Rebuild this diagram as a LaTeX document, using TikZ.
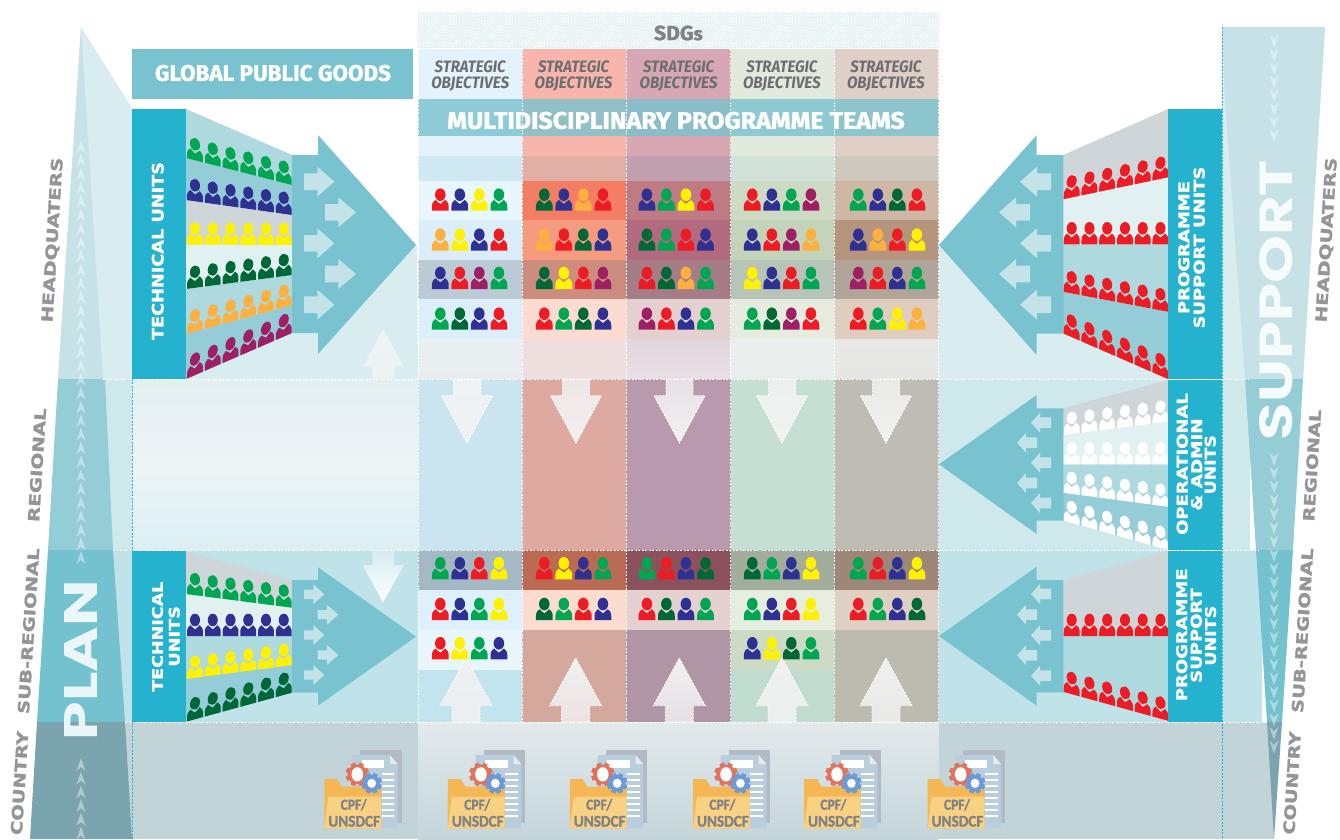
\documentclass[tikz,border=0pt]{standalone}
\usepackage{fontspec}
\usepackage{graphicx}
\usetikzlibrary{patterns.meta}
\newfontfamily\heavyfont{DejaVu Sans}[BoldFeatures={FakeBold=1.2}]
\newfontfamily\titlefont{Fira Sans}[BoldFeatures={FakeBold=1.5}]
\newfontfamily\bigfont{Poppins}
\newfontfamily\smallfont{Carlito}[BoldFeatures={FakeBold=1.5}]
\definecolor{cR}{HTML}{ED1C24}
\definecolor{cB}{HTML}{2E3192}
\definecolor{cY}{HTML}{FFF200}
\definecolor{cG}{HTML}{00A651}
\definecolor{cD}{HTML}{006837}
\definecolor{cO}{HTML}{FBB040}
\definecolor{cP}{HTML}{9E1F63}
\definecolor{cW}{HTML}{FFFFFF}
\definecolor{arrowteal}{HTML}{78C3CF}
\definecolor{unitblue}{HTML}{25B2CF}
\definecolor{smallarrow}{HTML}{C3E3E9}
\definecolor{band1}{HTML}{ADD9DF}
\definecolor{band2}{HTML}{94CDD7}
\definecolor{band3}{HTML}{CFD6DA}
\definecolor{band4}{HTML}{E1F1F2}
\definecolor{sidegray}{HTML}{939598}
\definecolor{objgray}{HTML}{6D6E71}
\definecolor{cpfgray}{HTML}{808285}
\definecolor{bgHQ}{HTML}{D9ECF0}
\definecolor{bgRE}{HTML}{CFE8EC}
\definecolor{bgSU}{HTML}{C0E3E9}
\definecolor{bgCO}{HTML}{C3D4D8}
\definecolor{triHQ}{HTML}{C6E2E7}
\definecolor{triRE}{HTML}{95CDD7}
\definecolor{triSU}{HTML}{74C2CF}
\definecolor{triCO}{HTML}{7BA5AE}
\definecolor{regtop}{HTML}{E3EFF1}
\definecolor{regmid}{HTML}{ECF4F6}
\definecolor{regbot}{HTML}{DDEFF2}
\definecolor{sdgline}{HTML}{A9D8E0}
\definecolor{upfill}{HTML}{EEF3F5}
\definecolor{upfillb}{HTML}{EDF2F4}
\definecolor{dnfill}{HTML}{D5ECEF}
\tikzset{
  whitedash/.style={draw=white,line width=0.8pt,dash pattern=on 2pt off 1.5pt},
  cyandash/.style={draw=unitblue,line width=0.8pt,dash pattern=on 2pt off 1.5pt},
  chevron/.style={fill=white,fill opacity=0.42},
}
\newcommand{\fitlabel}[9]{\node[inner sep=0pt,rotate=#4,text=#7] (#1) at (#2,#3) {\resizebox{#5pt}{#6pt}{#8#9}};}
\newcommand{\personw}{1}
\newcommand{\person}[4]{\begin{scope}[shift={(#1,#2)},yslant=#3,xscale=\personw]
  \fill[#4] (-8.4,0) -- (-8.4,-3.5) .. controls (-8.4,-7.2) and (-7.2,-9.6) .. (-5,-10.8) -- (0,-6.6) -- (5,-10.8) .. controls (7.2,-9.6) and (8.4,-7.2) .. (8.4,-3.5) -- (8.4,0) -- cycle;
  \fill[#4] (0,-16) ellipse [x radius=5.3,y radius=6.3];
\end{scope}}
\newcommand{\teamrow}[6]{\person{#1}{#2}{0}{#3}\person{#1+19.5}{#2}{0}{#4}\person{#1+39}{#2}{0}{#5}\person{#1+58.6}{#2}{0}{#6}}
\newcommand{\funnelrow}[6]{\foreach \i in {0,...,5}{\def\personw{.95}\pgfmathsetmacro\cx{#5+17.75*\i}\pgfmathsetmacro\by{#2+(\cx-#1)*(#4-#2)/(#3-#1)}\pgfmathsetmacro\sl{-(#4-#2)/(#3-#1)}\person{\cx}{\by}{\sl}{#6}}}
\newcommand{\cellrow}[7]{%
  \definecolor{tmpc}{HTML}{#3}\fill[tmpc] (418,#1) rectangle (522.3,#2);
  \definecolor{tmpc}{HTML}{#4}\fill[tmpc] (522.3,#1) rectangle (626.3,#2);
  \definecolor{tmpc}{HTML}{#5}\fill[tmpc] (626.3,#1) rectangle (730.6,#2);
  \definecolor{tmpc}{HTML}{#6}\fill[tmpc] (730.6,#1) rectangle (834.2,#2);
  \definecolor{tmpc}{HTML}{#7}\fill[tmpc] (834.2,#1) rectangle (938.6,#2);}
\newcommand{\gradcell}[6]{\definecolor{tmpa}{HTML}{#5}\definecolor{tmpb}{HTML}{#6}\shade[top color=tmpa,bottom color=tmpb] (#1,#3) rectangle (#2,#4);}
\newcommand{\bigdown}[3]{\definecolor{tmpa}{HTML}{#2}\definecolor{tmpb}{HTML}{#3}%
  \path[top color=tmpa,bottom color=tmpb,whitedash] (#1-13.5,379) -- (#1+13.5,379) -- (#1+13.5,395.7) -- (#1+25.5,395.7) -- (#1,443) -- (#1-25.5,395.7) -- (#1-13.5,395.7) -- cycle;}
\newcommand{\bigup}[3]{\definecolor{tmpa}{HTML}{#2}\definecolor{tmpb}{HTML}{#3}%
  \path[top color=tmpa,bottom color=tmpb,whitedash] (#1-14,722) -- (#1+14,722) -- (#1+14,705.7) -- (#1+26,705.7) -- (#1,658) -- (#1-26,705.7) -- (#1-14,705.7) -- cycle;}
\newcommand{\sarrow}[6]{\fill[smallarrow] (#1,#4-#5) -- (#3,#4-#5) -- (#3,#4-#6) -- (#2,#4) -- (#3,#4+#6) -- (#3,#4+#5) -- (#1,#4+#5) -- cycle;}
\newcommand{\gearicon}[6]{\definecolor{tmpg}{HTML}{#4}%
  \foreach \a in {0,45,...,315}{\fill[tmpg,rotate around={\a+22:(#1,#2)}] (#1-2.2,#2-#3-1.8) rectangle (#1+2.2,#2+#3+1.8);}
  \fill[tmpg] (#1,#2) circle [radius=#3];
  \fill[white] (#1,#2) ellipse [x radius=#5,y radius=#6];}
\newcommand{\cpficon}[2]{\begin{scope}[shift={(#2-324.3,0)}]
  \fill[docback] (360,750) rectangle (401.7,823.3);
  \fill[docfront] (352,755) -- (390,755) -- (397.7,764) -- (397.7,828.3) -- (352,828.3) -- cycle;
  \fill[docfold] (390,755) -- (397.7,764) -- (390,764) -- cycle;
  \fill[white] (361.7,760) rectangle (384,767.7);
  \foreach \ly in {773,779,785,791,797,803,809,815}{\fill[white] (381.7,\ly) rectangle (394.3,\ly+2);}
  \fill[folderback] (324.3,779) -- (337.3,779) -- (341.7,786.7) -- (381,786.7) -- (381,828.3) -- (324.3,828.3) -- cycle;
  \gearicon{357.3}{774.3}{9.8}{E2725B}{5.8}{7.2}
  \gearicon{371.7}{783.3}{8.3}{6C9AD6}{4.4}{4.6}
  \fill[folderfront] (328.3,796.7) -- (381,796.7) -- (381,828.3) -- (324.3,828.3) -- cycle;
  \fitlabel{cpfa#1}{353.7}{804.7}{0}{26}{10.7}{cpfgray}{\smallfont\bfseries}{CPF/}
  \fitlabel{cpfb#1}{354.2}{821.3}{0}{51.7}{10.7}{cpfgray}{\smallfont\bfseries}{UNSDCF}
\end{scope}}
\definecolor{docback}{HTML}{B3BAC5}
\definecolor{docfront}{HTML}{B9CEDD}
\definecolor{docfold}{HTML}{E3EBF0}
\definecolor{folderback}{HTML}{F4B754}
\definecolor{folderfront}{HTML}{F9D183}
\begin{document}
\begin{tikzpicture}[x=1pt,y=-1pt]
\useasboundingbox (0,0) rectangle (1340,839);
\fill[white] (0,0) rectangle (1340,839);

% ---- level backgrounds, left
\fill[bgHQ] (81,27) -- (132,108) -- (132,379) -- (58,379) -- cycle;
\fill[triHQ] (81,27) -- (103,379) -- (58,379) -- cycle;
\fill[bgHQ] (186,379) -- (292,333) -- (417,245) -- (418,379) -- cycle;
\shade[top color=regtop,bottom color=regbot,middle color=regmid] (132,379) rectangle (418,550);
\fill[bgRE] (105,379) rectangle (132,550);
\fill[bgSU] (113,550) rectangle (418,722);
\fill[bgCO] (125,722) rectangle (418,839);
% ---- level backgrounds, right
\fill[bgHQ] (938,245) -- (1063,333) -- (1168,379) -- (938,379) -- cycle;
\fill[bgRE] (938,379) rectangle (1250,550);
\fill[bgSU] (938,550) rectangle (1262,722);
\fill[bgCO] (938,722) rectangle (1274,839);

% ---- PLAN tapering shape
\fill[triRE] (58,379) -- (105,379) -- (113,550) -- (48,550) -- cycle;
\fill[triSU] (48,550) -- (113,550) -- (125,722) -- (37,722) -- cycle;
\fill[triCO] (37,722) -- (125,722) -- (132,839) -- (30,839) -- cycle;
\foreach \y in {140,153.7,...,560}{\fill[chevron] (81,\y) -- (85.5,\y+13) -- (81,\y+9) -- (76.5,\y+13) -- cycle;}
\foreach \y in {758,771.7,...,830}{\fill[chevron] (81,\y) -- (85.5,\y+13) -- (81,\y+9) -- (76.5,\y+13) -- cycle;}

% ---- SUPPORT tapering shape
\fill[bgHQ] (1222,27) -- (1325,27) -- (1303,379) -- (1222,379) -- cycle;
\fill[triHQ] (1222,27) -- (1325,27) -- (1303,379) -- (1245,379) -- (1225,100) -- cycle;
\fill[triRE] (1245,379) -- (1303,379) -- (1293,550) -- (1256,550) -- cycle;
\fill[triSU] (1256,550) -- (1293,550) -- (1282,722) -- (1267,722) -- cycle;
\fill[triCO] (1267,722) -- (1282,722) -- (1274,839) -- cycle;
\foreach \y in {35,48.5,...,130}{\fill[chevron] (1274,\y+13) -- (1278.5,\y) -- (1274,\y+4) -- (1269.5,\y) -- cycle;}
\foreach \y in {453,466.7,...,745}{\fill[chevron] (1274,\y+13) -- (1278.5,\y) -- (1274,\y+4) -- (1269.5,\y) -- cycle;}

% ---- SDGs band
\fill[pattern={Lines[angle=45,distance=2.2pt,line width=.5pt]},pattern color=sdgline] (418,12) rectangle (939,47);
\fill[white,opacity=.35] (418,12) rectangle (939,47);
\fitlabel{sdgs}{678.4}{33}{0}{48.7}{14.5}{cpfgray}{\titlefont\bfseries}{SDG{\small s}}

% ---- objective columns
\cellrow{49}{156}{E3F2FB}{F7B5AB}{D7A7B4}{E2E9DD}{DFCFC6}
\cellrow{156}{181}{D0E8F1}{E2AFA7}{C0A0AF}{D3E2D9}{CEC9BF}
\cellrow{181}{220}{E8F6FD}{F37E63}{BF7B83}{CEDBC4}{CFB7A5}
\cellrow{220}{260}{DAEDF9}{F49B80}{B26A7E}{C3D4BA}{B5957D}
\cellrow{260}{299}{BACBD5}{CC8D7E}{A67D86}{B9C4B8}{B1A498}
\cellrow{299}{339}{DDEEFA}{FDDBD0}{E5D0D0}{E6EDE0}{DFCDBF}
\gradcell{418}{522.3}{339}{379}{E9EFF2}{E8ECEE}
\gradcell{522.3}{626.3}{339}{379}{F0DFDD}{EEE0E0}
\gradcell{626.3}{730.6}{339}{379}{E2D6DE}{E8E0E4}
\gradcell{730.6}{834.2}{339}{379}{EAEFEE}{E9EDEC}
\gradcell{834.2}{938.6}{339}{379}{E8E8E6}{E6E6E4}
\cellrow{379}{550}{CBE5F0}{DDA9A1}{B89AAC}{C6DFD3}{BEBCB3}
\cellrow{550}{590}{A5B9C4}{BB6A53}{8B515D}{A2AD9D}{9D8778}
\cellrow{590}{630}{DEF0FC}{FDDCD0}{E5D1D0}{E6EEE0}{E0D0C4}
\cellrow{630}{670}{E8F6FC}{D4A89C}{B096A5}{CEDBC4}{BBBBB0}
\cellrow{670}{722}{C2E4EE}{D4A89C}{B096A5}{C0DBD0}{BBBBB0}
\gradcell{418}{938.6}{722}{839}{E3EAEC}{C4D5DA}

% ---- global public goods, programme teams band
\fill[arrowteal] (132,49) rectangle (413,99);
\fitlabel{gpg}{273}{73}{0}{236}{16}{white}{\titlefont\bfseries}{GLOBAL PUBLIC GOODS}
\foreach \cc in {470.2,573.6,678.6,781.9,885.9}{
  \node[inner sep=0pt,text=objgray] at (\cc,67) {\resizebox{71pt}{11.7pt}{\titlefont\bfseries\itshape STRATEGIC}};
  \node[inner sep=0pt,text=objgray] at (\cc,84) {\resizebox{77.8pt}{11.7pt}{\titlefont\bfseries\itshape OBJECTIVES}};
}
\fill[arrowteal,opacity=.8] (418,99) rectangle (938.6,136);
\fitlabel{mpt}{676}{120.5}{0}{457.6}{17}{white}{\titlefont\bfseries}{MULTIDISCIPLINARY PROGRAMME TEAMS}

% ---- white arrows between levels
\path[top color=upfill,bottom color=upfillb] (372.3,379) -- (394.3,379) -- (394.3,366.7) -- (404,366.7) -- (383,329.3) -- (362.7,366.7) -- (372.3,366.7) -- cycle;
\path[top color=dnfill,bottom color=white] (372.3,550) -- (394.3,550) -- (394.3,565) -- (404,565) -- (383,602.3) -- (362.7,565) -- (372.3,565) -- cycle;
\bigdown{467}{EEF3F5}{F0F1F1}
\bigdown{576}{EFE6E5}{F1F0F0}
\bigdown{679.5}{E8E1E6}{F1F0F0}
\bigdown{782}{EBF0EE}{F1F2F1}
\bigdown{886}{E9E9E7}{F1F1F0}
\bigup{466}{F0F0F0}{E9EFF1}
\bigup{575.6}{F0F0F0}{EDE2E1}
\bigup{679.3}{F0F0F0}{E6E0E5}
\bigup{782}{F0F0F0}{EAF0ED}
\bigup{886}{F0F0F0}{E8E8E5}

% ---- team members, upper block
\teamrow{440.3}{210.7}{cR}{cB}{cY}{cG}
\teamrow{544.3}{210.7}{cD}{cB}{cO}{cR}
\teamrow{646.9}{210.7}{cB}{cG}{cY}{cR}
\teamrow{752.3}{210.7}{cR}{cB}{cG}{cP}
\teamrow{858.3}{210.7}{cG}{cB}{cD}{cR}
\teamrow{440.3}{250.7}{cO}{cY}{cB}{cR}
\teamrow{544.3}{250.7}{cO}{cR}{cD}{cB}
\teamrow{646.9}{250.7}{cD}{cG}{cR}{cB}
\teamrow{752.3}{250.7}{cB}{cR}{cP}{cO}
\teamrow{858.3}{250.7}{cB}{cO}{cR}{cY}
\teamrow{440.3}{289}{cB}{cR}{cP}{cG}
\teamrow{544.3}{289}{cD}{cY}{cR}{cP}
\teamrow{646.9}{289}{cR}{cD}{cO}{cG}
\teamrow{752.3}{289}{cY}{cB}{cR}{cG}
\teamrow{858.3}{289}{cP}{cR}{cB}{cG}
\teamrow{440.3}{329.7}{cG}{cD}{cB}{cR}
\teamrow{544.3}{329.7}{cR}{cG}{cD}{cB}
\teamrow{646.9}{329.7}{cP}{cR}{cB}{cG}
\teamrow{752.3}{329.7}{cG}{cD}{cP}{cR}
\teamrow{858.3}{329.7}{cR}{cG}{cY}{cO}
% ---- team members, lower block
\teamrow{440.3}{579.3}{cG}{cB}{cR}{cY}
\teamrow{544.3}{579.3}{cR}{cY}{cB}{cG}
\teamrow{646.9}{579.3}{cG}{cR}{cB}{cD}
\teamrow{752.3}{579.3}{cD}{cG}{cB}{cY}
\teamrow{858.3}{579.3}{cG}{cR}{cB}{cY}
\teamrow{440.3}{620}{cR}{cB}{cG}{cY}
\teamrow{544.3}{620}{cD}{cG}{cR}{cB}
\teamrow{646.9}{620}{cR}{cD}{cB}{cG}
\teamrow{752.3}{620}{cG}{cB}{cR}{cY}
\teamrow{858.3}{620}{cR}{cG}{cB}{cD}
\teamrow{440.3}{659.3}{cR}{cY}{cG}{cB}
\teamrow{752.3}{659.3}{cB}{cY}{cD}{cG}

% ---- left HQ unit
\fill[band1] (186,109) -- (292,155) -- (292,185) -- (186,158) -- cycle;
\fill[band2] (186,158) -- (292,185) -- (292,215) -- (186,200) -- cycle;
\fill[band3] (186,200) -- (292,215) -- (292,245) -- (186,244.5) -- cycle;
\fill[band4] (186,244.5) -- (292,245) -- (292,275) -- (186,289) -- cycle;
\fill[band1] (186,289) -- (292,275) -- (292,305) -- (186,334) -- cycle;
\fill[band2] (186,334) -- (292,305) -- (292,333) -- (186,379) -- cycle;
\funnelrow{186}{158}{292}{185}{195}{cG}
\funnelrow{186}{200}{292}{215}{195}{cB}
\funnelrow{186}{244.5}{292}{245}{195}{cY}
\funnelrow{186}{289}{292}{275}{195}{cD}
\funnelrow{186}{334}{292}{305}{195}{cO}
\funnelrow{186}{379}{292}{333}{195}{cP}
\fill[arrowteal] (292,155) -- (318,155) -- (318,135) -- (416,245) -- (318,354) -- (318,333) -- (292,333) -- cycle;
\foreach \yy/\xt/\xh/\xe in {181.7/304/317.3/334.3,212.3/325/338.3/356,243.3/304/317.3/334.3,274/325/338.3/356,304.7/304/317.3/334.3}{\sarrow{\xt}{\xe}{\xh}{\yy}{8.3}{15}}
\fill[unitblue] (132,109) rectangle (186,379);
\fitlabel{tu1}{157.7}{251}{90}{178}{11.7}{white}{\heavyfont\bfseries}{TECHNICAL UNITS}

% ---- left sub-regional unit
\fill[band3] (186,551.7) -- (292,580) -- (292,607.7) -- (186,594) -- cycle;
\fill[band4] (186,594) -- (292,607.7) -- (292,636) -- (186,636) -- cycle;
\fill[band1] (186,636) -- (292,636) -- (292,665) -- (186,679) -- cycle;
\fill[band2] (186,679) -- (292,665) -- (292,692.7) -- (186,721.7) -- cycle;
\funnelrow{186}{594}{292}{607.7}{195}{cG}
\funnelrow{186}{636}{292}{636}{195}{cB}
\funnelrow{186}{679}{292}{665}{195}{cY}
\funnelrow{186}{721.7}{292}{692.7}{195}{cD}
\fill[arrowteal] (292,580) -- (318,580) -- (318,567.3) -- (416,636.7) -- (318,705.7) -- (318,692.7) -- (292,692.7) -- cycle;
\foreach \yy/\xt/\xh/\xe in {594.3/304/313.3/324.3,614.7/317.7/327/338.3,635/304/313.3/324.3,655/317.7/327/338.3,675/304/313.3/324.3}{\sarrow{\xt}{\xe}{\xh}{\yy}{4.7}{10}}
\fill[unitblue] (132,551) rectangle (186,722);
\fitlabel{tu2a}{157.5}{636.7}{90}{110}{10.8}{white}{\heavyfont\bfseries}{TECHNICAL}
\fitlabel{tu2b}{174.2}{636.3}{90}{60.7}{10.8}{white}{\heavyfont\bfseries}{UNITS}

% ---- right HQ unit
\fill[band3] (1063,155) -- (1168,109) -- (1168,177.3) -- (1063,199.3) -- cycle;
\fill[band4] (1063,199.3) -- (1168,177.3) -- (1168,244.3) -- (1063,244.3) -- cycle;
\fill[band1] (1063,244.3) -- (1168,244.3) -- (1168,311.7) -- (1063,291.7) -- cycle;
\fill[band2] (1063,291.7) -- (1168,311.7) -- (1168,379) -- (1063,333.3) -- cycle;
\funnelrow{1063}{199.3}{1168}{177.3}{1071.7}{cR}
\funnelrow{1063}{244.3}{1168}{244.3}{1071.7}{cR}
\funnelrow{1063}{291.7}{1168}{311.7}{1071.7}{cR}
\funnelrow{1063}{333.3}{1168}{379}{1071.7}{cR}
\fill[arrowteal] (1063.3,155) -- (1036.7,155) -- (1036.7,135) -- (939,245) -- (1036.7,355) -- (1036.7,333.5) -- (1063.3,333.5) -- cycle;
\foreach \yy/\xt/\xh/\xe in {181.7/1051/1037/1020,212.3/1030/1016/999,243.3/1051/1037/1020,274/1030/1016/999,304.7/1051/1037/1020}{\sarrow{\xt}{\xe}{\xh}{\yy}{8.3}{15}}
\fill[unitblue] (1168.3,109) rectangle (1222.3,379);
\fitlabel{pa1}{1183.8}{247.5}{90}{133}{11}{white}{\heavyfont\bfseries}{PROGRAMME}
\fitlabel{pa2}{1199.2}{247.5}{90}{161.7}{11}{white}{\heavyfont\bfseries}{SUPPORT UNITS}

% ---- right regional unit
\fill[band3] (1063,408.3) -- (1168,380) -- (1168,421.7) -- (1063,435) -- cycle;
\fill[band4] (1063,435) -- (1168,421.7) -- (1168,464.3) -- (1063,464.3) -- cycle;
\fill[band1] (1063,464.3) -- (1168,464.3) -- (1168,506.7) -- (1063,492.7) -- cycle;
\fill[band2] (1063,492.7) -- (1168,506.7) -- (1168,550) -- (1063,520.7) -- cycle;
\funnelrow{1063}{435}{1168}{421.7}{1071.7}{cW}
\funnelrow{1063}{464.3}{1168}{464.3}{1071.7}{cW}
\funnelrow{1063}{492.7}{1168}{506.7}{1071.7}{cW}
\funnelrow{1063}{520.7}{1168}{550}{1071.7}{cW}
\fill[arrowteal] (1063.3,408.3) -- (1036.7,408.3) -- (1036.7,395) -- (939,464.3) -- (1036.7,534) -- (1036.7,520.7) -- (1063.3,520.7) -- cycle;
\foreach \yy/\xt/\xh/\xe in {422.7/1051/1040/1031,442.7/1037/1026/1017,462.7/1051/1040/1031,483/1037/1026/1017,503/1051/1040/1031}{\sarrow{\xt}{\xe}{\xh}{\yy}{5.3}{10}}
\fill[unitblue] (1168.3,380) rectangle (1222.3,550);
\fitlabel{oa1}{1182.2}{464}{90}{141.7}{11}{white}{\heavyfont\bfseries}{OPERATIONAL}
\fitlabel{oa2}{1196.7}{464.5}{90}{92.3}{11}{white}{\heavyfont\bfseries}{\& ADMIN}
\fitlabel{oa3}{1210.2}{464.7}{90}{59.3}{11}{white}{\heavyfont\bfseries}{UNITS}

% ---- right sub-regional unit
\fill[band3] (1063,580) -- (1168,551) -- (1168,636) -- (1063,636) -- cycle;
\fill[band1] (1063,636) -- (1168,636) -- (1168,721) -- (1063,692.3) -- cycle;
\funnelrow{1063}{636}{1168}{636}{1071.7}{cR}
\funnelrow{1063}{691.7}{1168}{720.7}{1071.7}{cR}
\fill[arrowteal] (1063.3,580) -- (1036.7,580) -- (1036.7,566.7) -- (939,636) -- (1036.7,705.7) -- (1036.7,692.3) -- (1063.3,692.3) -- cycle;
\foreach \yy/\xt/\xh/\xe in {594/1051/1040/1031,614.7/1037/1026/1017,635.3/1051/1040/1031,655.3/1037/1026/1017,675.7/1051/1040/1031}{\sarrow{\xt}{\xe}{\xh}{\yy}{5.3}{10}}
\fill[unitblue] (1168.3,551) rectangle (1222.3,722);
\fitlabel{ps1}{1181.7}{634.7}{90}{132.7}{11}{white}{\heavyfont\bfseries}{PROGRAMME}
\fitlabel{ps2}{1196.2}{635.5}{90}{94.4}{11}{white}{\heavyfont\bfseries}{SUPPORT}
\fitlabel{ps3}{1210.5}{635.7}{90}{60}{11}{white}{\heavyfont\bfseries}{UNITS}

% ---- dashed grid
\foreach \xx in {418,522.3,626.3,730.6,834.2,938.6}{\draw[whitedash] (\xx,49) -- (\xx,722);}
\draw[whitedash] (103,379) -- (1248,379);
\draw[whitedash] (113,550) -- (1258,550);
\draw[whitedash] (125,722) -- (1267,722);
\draw[cyandash] (132,109) -- (132,839);
\draw[cyandash] (1222.7,27) -- (1222.7,839);

% ---- documents
\cpficon{1}{324.3}
\cpficon{2}{447.9}
\cpficon{3}{569.8}
\cpficon{4}{693}
\cpficon{5}{804}
\cpficon{6}{927.6}

% ---- big words
\fitlabel{plan}{80.5}{660}{90}{160}{33}{white!85!triSU}{\bigfont\bfseries}{PLAN}
\fitlabel{support}{1276.5}{300}{90}{280}{33}{white!85!triHQ}{\bigfont\bfseries}{SUPPORT}

% ---- level labels
\fitlabel{lhq}{53}{240}{86.4}{165}{11.5}{sidegray}{\heavyfont\bfseries}{HEADQUATERS}
\fitlabel{lre}{37}{465}{86.4}{114}{11.5}{sidegray}{\heavyfont\bfseries}{REGIONAL}
\fitlabel{lsu}{28.5}{631}{86.4}{166}{11.5}{sidegray}{\heavyfont\bfseries}{SUB-REGIONAL}
\fitlabel{lco}{19.5}{783}{86.4}{104}{11.5}{sidegray}{\heavyfont\bfseries}{COUNTRY}
\fitlabel{rhq}{1327}{240}{86.4}{165}{11.5}{sidegray}{\heavyfont\bfseries}{HEADQUATERS}
\fitlabel{rre}{1312}{465.5}{86.4}{112}{11.5}{sidegray}{\heavyfont\bfseries}{REGIONAL}
\fitlabel{rsu}{1302.5}{630.5}{86.4}{165}{11.5}{sidegray}{\heavyfont\bfseries}{SUB-REGIONAL}
\fitlabel{rco}{1292}{783}{86.4}{103}{11.5}{sidegray}{\heavyfont\bfseries}{COUNTRY}
\end{tikzpicture}
\end{document}
